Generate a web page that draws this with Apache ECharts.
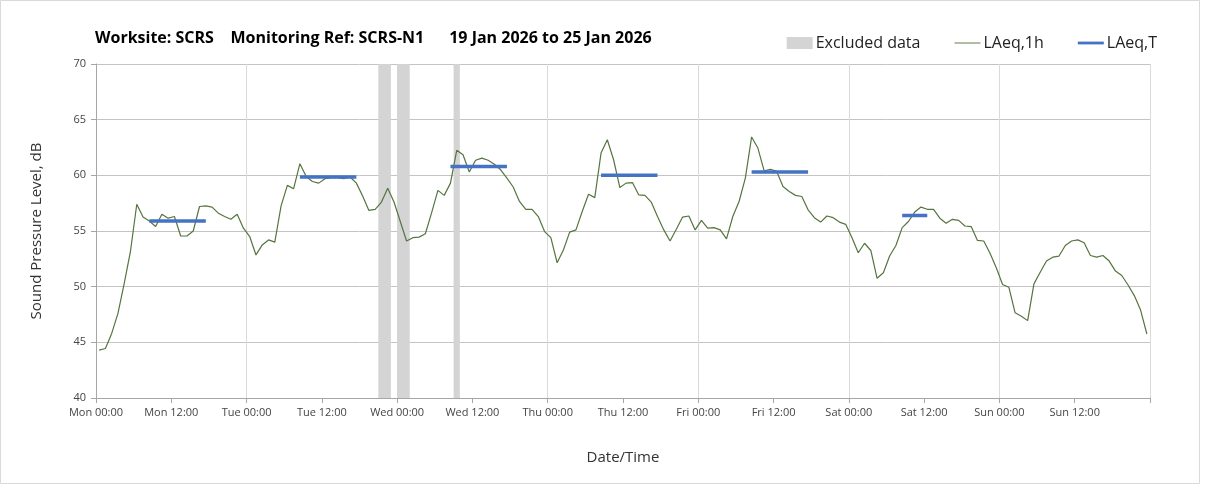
<!DOCTYPE html>
<html>
<head>
<meta charset="utf-8">
<script src="https://cdn.jsdelivr.net/npm/echarts@6/dist/echarts.min.js"></script>
<style>
	html, body { margin: 0; padding: 0; background: #fff; }
	#chart { width: 1208px; height: 492px; }
</style>
</head>
<body>
<div id="chart"></div>
<script>
	// hourly LAeq,1h, Mon 00:00 .. Sun 23:00
	var laeq1h = [
		44.3, 44.45, 45.8, 47.6, 50.3, 53.2, 57.4, 56.25, 55.9, 55.4, 56.5, 56.15,
		56.3, 54.55, 54.55, 55.0, 57.2, 57.25, 57.15, 56.6, 56.3, 56.05, 56.5, 55.25,
		54.5, 52.85, 53.75, 54.2, 54.0, 57.25, 59.1, 58.8, 61.05, 59.9, 59.45, 59.3,
		59.7, 59.8, 59.8, 59.7, 59.85, 59.3, 58.15, 56.85, 56.95, 57.6, 58.85, 57.6,
		55.85, 54.1, 54.4, 54.45, 54.75, 56.65, 58.65, 58.2, 59.3, 62.25, 61.85, 60.3,
		61.35, 61.55, 61.35, 61.0, 60.5, 59.75, 58.95, 57.65, 56.95, 56.95, 56.3, 54.95,
		54.4, 52.15, 53.3, 54.9, 55.1, 56.75, 58.3, 58.0, 62.0, 63.2, 61.4, 58.9,
		59.3, 59.35, 58.25, 58.2, 57.6, 56.3, 55.1, 54.1, 55.15, 56.25, 56.35, 55.1,
		55.95, 55.25, 55.3, 55.1, 54.3, 56.3, 57.65, 59.75, 63.45, 62.45, 60.4, 60.55,
		60.35, 59.0, 58.55, 58.2, 58.1, 56.9, 56.2, 55.8, 56.35, 56.2, 55.8, 55.6,
		54.4, 53.05, 53.9, 53.25, 50.75, 51.25, 52.75, 53.7, 55.3, 55.85, 56.7, 57.15,
		56.95, 56.95, 56.15, 55.7, 56.05, 55.95, 55.45, 55.4, 54.15, 54.1, 53.0, 51.7,
		50.2, 49.95, 47.65, 47.35, 46.95, 50.25, 51.3, 52.3, 52.65, 52.75, 53.7, 54.1,
		54.2, 53.95, 52.8, 52.65, 52.8, 52.3, 51.4, 51.0, 50.15, 49.2, 47.9, 45.75
	];

	// LAeq,T periods (first and last hour index) and levels
	var laeqTStart = [8, 32, 56, 80, 104, 128];
	var laeqTEnd   = [17, 41, 65, 89, 113, 132];
	var laeqTValue = [55.9, 59.85, 60.8, 60.0, 60.3, 56.4];

	// excluded data, hours from Mon 00:00
	var excludedStart = [45, 48, 57];
	var excludedEnd   = [47, 50, 58];

	var xTickLabels = ['Mon 00:00', 'Mon 12:00', 'Tue 00:00', 'Tue 12:00', 'Wed 00:00', 'Wed 12:00',
		'Thu 00:00', 'Thu 12:00', 'Fri 00:00', 'Fri 12:00', 'Sat 00:00', 'Sat 12:00', 'Sun 00:00', 'Sun 12:00'];

	var FONT = '"Open Sans", "Noto Sans", sans-serif';

	var lineData = [];
	for (var i = 0; i < laeq1h.length; i++) {
		lineData.push([i + 0.5, laeq1h[i]]);
	}

	var areas = [];
	for (var k = 0; k < excludedStart.length; k++) {
		areas.push([{ xAxis: excludedStart[k] }, { xAxis: excludedEnd[k] }]);
	}

	var series = [
		{
			name: 'Excluded data',
			type: 'line',
			data: [],
			symbol: 'none',
			itemStyle: { color: '#d4d4d4' },
			markArea: {
				silent: true,
				itemStyle: { color: '#d4d4d4' },
				data: areas
			}
		},
		{
			name: 'LAeq,1h',
			type: 'line',
			data: lineData,
			symbol: 'none',
			z: 3,
			itemStyle: { color: '#55743f' },
			lineStyle: { color: '#55743f', width: 1.2 }
		}
	];
	for (var s = 0; s < laeqTStart.length; s++) {
		series.push({
			name: 'LAeq,T',
			type: 'line',
			symbol: 'none',
			z: 4,
			data: [[laeqTStart[s] + 0.5, laeqTValue[s]], [laeqTEnd[s] + 0.5, laeqTValue[s]]],
			itemStyle: { color: '#4472c4' },
			lineStyle: { color: '#4472c4', width: 3.5 }
		});
	}

	var myChart = echarts.init(document.getElementById('chart'));
	var option = {
		animation: false,
		backgroundColor: '#fff',
		title: {
			text: 'Worksite: SCRS    Monitoring Ref: SCRS-N1      19 Jan 2026 to 25 Jan 2026',
			left: 90,
			top: 25,
			textStyle: { fontFamily: FONT, fontSize: 16, fontWeight: 'bold', color: '#000' }
		},
		legend: {
			right: 46,
			top: 30,
			itemGap: 34,
			itemWidth: 26,
			itemHeight: 12,
			textStyle: { fontFamily: FONT, fontSize: 16, color: '#222', padding: [0, 0, 0, -2] },
			data: [
				{ name: 'Excluded data', icon: 'rect', itemStyle: { color: '#d4d4d4' } },
				{ name: 'LAeq,1h', icon: 'path://M0,5 L28,5 L28,6 L0,6 Z', itemStyle: { color: '#55743f' } },
				{ name: 'LAeq,T', icon: 'path://M0,4 L28,4 L28,7 L0,7 Z', itemStyle: { color: '#4472c4' } }
			]
		},
		grid: { left: 96, right: 58, top: 64, bottom: 94 },
		xAxis: [
			{
				type: 'value',
				min: 0,
				max: 168,
				interval: 12,
				name: 'Date/Time',
				nameLocation: 'middle',
				nameGap: 52,
				nameTextStyle: { fontFamily: FONT, fontSize: 15, color: '#333' },
				axisLine: { lineStyle: { color: '#a6a6a6' } },
				axisTick: { length: 5, lineStyle: { color: '#a6a6a6' } },
				axisLabel: {
					fontFamily: FONT, fontSize: 11, color: '#444', margin: 9,
					formatter: function (v) { return xTickLabels[v / 12] || ''; }
				},
				splitLine: { show: false }
			},
			{
				type: 'value',
				min: 0,
				max: 168,
				interval: 24,
				position: 'bottom',
				axisLine: { show: false },
				axisTick: { show: false },
				axisLabel: { show: false },
				splitLine: { show: true, lineStyle: { color: '#dadada', width: 1 } }
			}
		],
		yAxis: {
			type: 'value',
			min: 40,
			max: 70,
			interval: 5,
			name: 'Sound Pressure Level, dB',
			nameLocation: 'middle',
			nameGap: 52,
			nameTextStyle: { fontFamily: FONT, fontSize: 15, color: '#333' },
			axisLine: { show: true, lineStyle: { color: '#a6a6a6' } },
			axisTick: { show: true, length: 5, lineStyle: { color: '#a6a6a6' } },
			axisLabel: { fontFamily: FONT, fontSize: 11, color: '#444', margin: 10 },
			splitLine: { lineStyle: { color: '#c4c4c4', width: 1 } }
		},
		graphic: [
			{
				type: 'rect',
				shape: { x: 0.5, y: 0.5, width: 1199, height: 483 },
				style: { fill: 'none', stroke: '#d9d9d9', lineWidth: 1 },
				silent: true
			}
		],
		series: series
	};
	myChart.setOption(option);
</script>
</body>
</html>
